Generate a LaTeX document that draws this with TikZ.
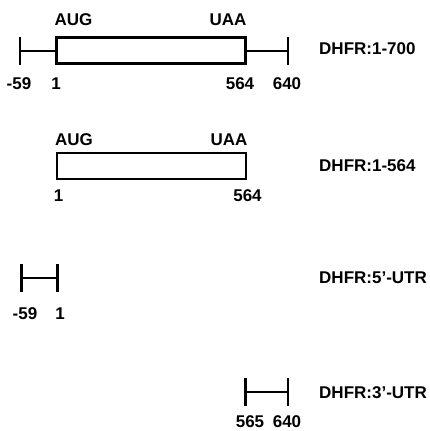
\documentclass[tikz,border=0pt]{standalone}
\usepackage{fontspec}
\setmainfont{Liberation Sans}
\usepackage{tikz}
\usetikzlibrary{positioning}
\tikzset{
  cds/.style={rectangle, draw=black, line width=2.6pt, fill=white,
              minimum width=189pt, minimum height=26pt, inner sep=0pt},
  utr/.style={draw=black, line width=2.6pt},
  endbar/.style={draw=black, line width=2.6pt},
  lbl/.style={font=\fontsize{17}{19}\selectfont\bfseries, inner sep=0pt},
  tag/.style={lbl, anchor=west},
}

\begin{document}
\begin{tikzpicture}[x=1pt, y=-1pt]
        \useasboundingbox (0,0) rectangle (430,431);
        % full length construct
        \coordinate (f5) at (20,51);
        \coordinate (f3) at (288,51);
        \node[cds] (fcds) at (151,50.5) {};
        \draw[utr] (f5) -- (f5 -| fcds.west);
        \draw[utr] (f3 -| fcds.east) -- (f3);
        \draw[endbar] (f5) +(0,-14) -- +(0,14);
        \draw[endbar] (f3) +(0,-14) -- +(0,14);
        \node[lbl] (faug) at (73.5,20) {AUG};
        \node[lbl] (fuaa) at (228,20) {UAA};
        \node[lbl] (fa) at (19,84) {-59};
        \node[lbl] (fb) at (56,84) {1};
        \node[lbl] (fc) at (240,84) {564};
        \node[lbl] (fd) at (287,84) {640};
        \node[tag] (fname) at (319,49) {DHFR:1-700};
        % coding region only
        \node[cds] (ocds) at (151.5,166) {};
        \node[lbl] (oaug) at (74,139.5) {AUG};
        \node[lbl] (ouaa) at (229,139.5) {UAA};
        \node[lbl] (oa) at (58.5,196) {1};
        \node[lbl] (ob) at (247.5,196) {564};
        \node[tag] (oname) at (319,165.5) {DHFR:1-564};
        % 5' untranslated region
        \coordinate (l5) at (21.5,278);
        \coordinate (l3) at (57.5,278);
        \draw[utr] (l5) -- (l3);
        \draw[endbar] (l5) +(0,-14) -- +(0,14);
        \draw[endbar] (l3) +(0,-14) -- +(0,14);
        \node[lbl] (la) at (25,314) {-59};
        \node[lbl] (lb) at (60,314) {1};
        \node[tag] (lname) at (319,277.5) {DHFR:5’-UTR};
        % 3' untranslated region
        \coordinate (r5) at (245.5,392);
        \coordinate (r3) at (288,392);
        \draw[utr] (r5) -- (r3);
        \draw[endbar] (r5) +(0,-14) -- +(0,14);
        \draw[endbar] (r3) +(0,-14) -- +(0,14);
        \node[lbl] (ra) at (250,422) {565};
        \node[lbl] (rb) at (287,422) {640};
        \node[tag] (rname) at (319,392.5) {DHFR:3’-UTR};
      \end{tikzpicture}
\end{document}
